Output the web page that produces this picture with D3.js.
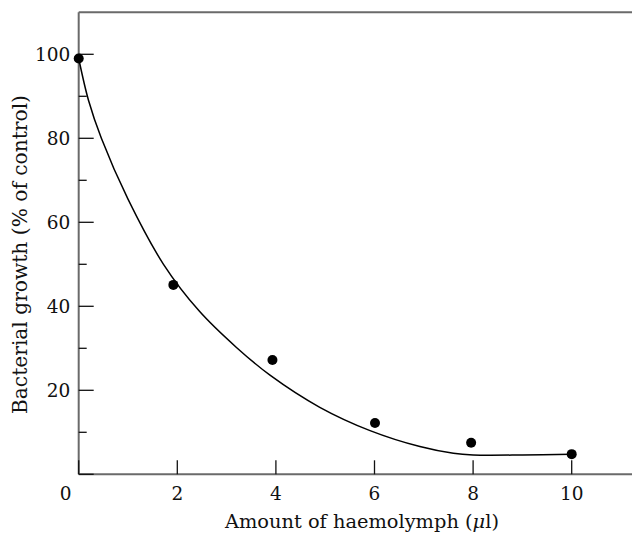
<!DOCTYPE html>
<html><head><meta charset="utf-8">
<script src="https://cdn.jsdelivr.net/npm/d3@7"></script>
<style>
html,body{margin:0;padding:0;background:#fff;}
svg{display:block;}
text{font-family:"DejaVu Serif",serif;fill:#111;}
</style></head>
<body>
<script>
// Data
const pointX = [0, 1.92, 3.93, 6.01, 7.96, 10.0];
const pointY = [99, 45.1, 27.2, 12.2, 7.5, 4.8];
const curveX = [0, 0.2, 0.46, 1.0, 1.72, 2.45, 3.2, 3.88, 4.89, 5.91, 6.92, 7.6, 8.0, 9.0, 10.0];
const curveY = [99, 89, 80, 65.5, 50, 38.8, 30.2, 23.6, 15.95, 10.4, 6.6, 5.0, 4.6, 4.6, 4.8];
const xTicks = [0, 2, 4, 6, 8, 10];
const yMajor = [0, 20, 40, 60, 80, 100];
const yMinor = [10, 30, 50, 70, 90];
const yLabels = [20, 40, 60, 80, 100];
const xTitle = "Amount of haemolymph (";
const yTitle = "Bacterial growth (% of control)";

const W = 632, H = 533;
const svg = d3.select("body").append("svg").attr("width", W).attr("height", H);

const x = d3.scaleLinear().domain([0, 10]).range([78.7, 571.7]);
const y = d3.scaleLinear().domain([0, 100]).range([474.3, 54.3]);
const yTop = y(110);

// frame lines (gray)
const g = svg.append("g");
g.append("line").attr("x1", x(0)).attr("x2", W).attr("y1", y(0)).attr("y2", y(0))
  .attr("stroke", "#6a6a6a").attr("stroke-width", 2);
g.append("line").attr("x1", x(0)).attr("x2", W).attr("y1", yTop).attr("y2", yTop)
  .attr("stroke", "#6a6a6a").attr("stroke-width", 2);
g.append("line").attr("x1", x(0)).attr("x2", x(0)).attr("y1", yTop).attr("y2", y(0))
  .attr("stroke", "#6a6a6a").attr("stroke-width", 2);

// x ticks (inward, up)
g.selectAll(".xt").data(xTicks).join("line")
  .attr("x1", d => x(d)).attr("x2", d => x(d))
  .attr("y1", y(0)).attr("y2", y(0) - 14)
  .attr("stroke", "#111").attr("stroke-width", 1.3);
g.selectAll(".xl").data(xTicks).join("text")
  .attr("x", d => d === 0 ? x(d) - 13 : x(d))
  .attr("y", y(0) + 25.5)
  .attr("text-anchor", "middle")
  .attr("font-size", 18.5)
  .text(d => d);

// y ticks
g.selectAll(".ytM").data(yMajor).join("line")
  .attr("x1", x(0)).attr("x2", x(0) + 15)
  .attr("y1", d => y(d)).attr("y2", d => y(d))
  .attr("stroke", "#111").attr("stroke-width", 1.3);
g.selectAll(".ytm").data(yMinor).join("line")
  .attr("x1", x(0)).attr("x2", x(0) + 8)
  .attr("y1", d => y(d)).attr("y2", d => y(d))
  .attr("stroke", "#111").attr("stroke-width", 1.3);
g.selectAll(".yl").data(yLabels).join("text")
  .attr("x", x(0) - 8.5)
  .attr("y", d => y(d))
  .attr("dy", "0.36em")
  .attr("text-anchor", "end")
  .attr("font-size", 18.5)
  .text(d => d);

// curve
const line = d3.line().x(d => x(d[0])).y(d => y(d[1])).curve(d3.curveCatmullRom.alpha(0.5));
svg.append("path").datum(curveX.map((v, i) => [v, curveY[i]]))
  .attr("d", line).attr("fill", "none").attr("stroke", "#000").attr("stroke-width", 1.5);

// points
svg.selectAll(".pt").data(pointX.map((v, i) => [v, pointY[i]])).join("circle")
  .attr("cx", d => x(d[0])).attr("cy", d => y(d[1])).attr("r", 5).attr("fill", "#000");

// titles
const xt = svg.append("text").attr("x", 362).attr("y", 527.5).attr("text-anchor", "middle")
  .attr("font-size", 19).attr("textLength", 274).attr("lengthAdjust", "spacingAndGlyphs");
xt.append("tspan").text(xTitle);
xt.append("tspan").attr("font-style", "italic").text("\u03bc");
xt.append("tspan").text("l)");

svg.append("text").attr("transform", "translate(27,254.5) rotate(-90)")
  .attr("text-anchor", "middle").attr("font-size", 20)
  .attr("textLength", 319).attr("lengthAdjust", "spacingAndGlyphs")
  .text(yTitle);
</script>
</body></html>
